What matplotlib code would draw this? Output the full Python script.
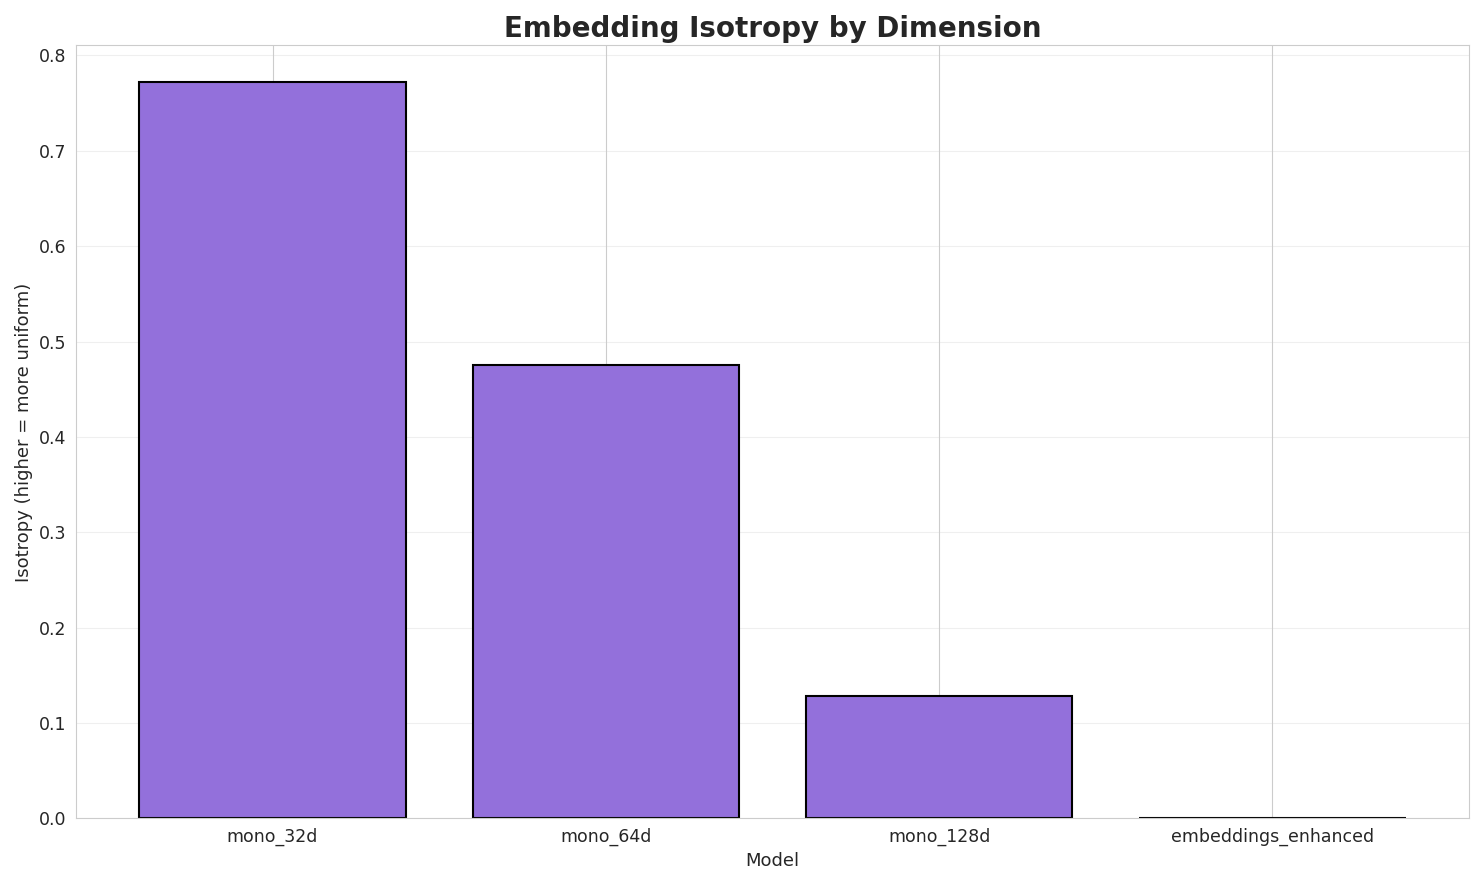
import matplotlib
matplotlib.use("Agg")
import matplotlib.pyplot as plt
import seaborn as sns

models = ["mono_32d", "mono_64d", "mono_128d", "embeddings_enhanced"]
isotropy = [0.772, 0.475, 0.128, 0.0005]

sns.set_style("whitegrid")
fig, ax = plt.subplots(figsize=(14.84, 8.85), dpi=100)
ax.bar(models, isotropy, color="mediumpurple", edgecolor="black", linewidth=1.5)
ax.grid(axis="y", alpha=0.3)
ax.set_title("Embedding Isotropy by Dimension", fontsize=20, fontweight="bold")
ax.set_xlabel("Model", fontsize=13)
ax.set_ylabel("Isotropy (higher = more uniform)", fontsize=13)
ax.tick_params(labelsize=12.5)
plt.tight_layout()
plt.savefig("out.png", dpi=100)
